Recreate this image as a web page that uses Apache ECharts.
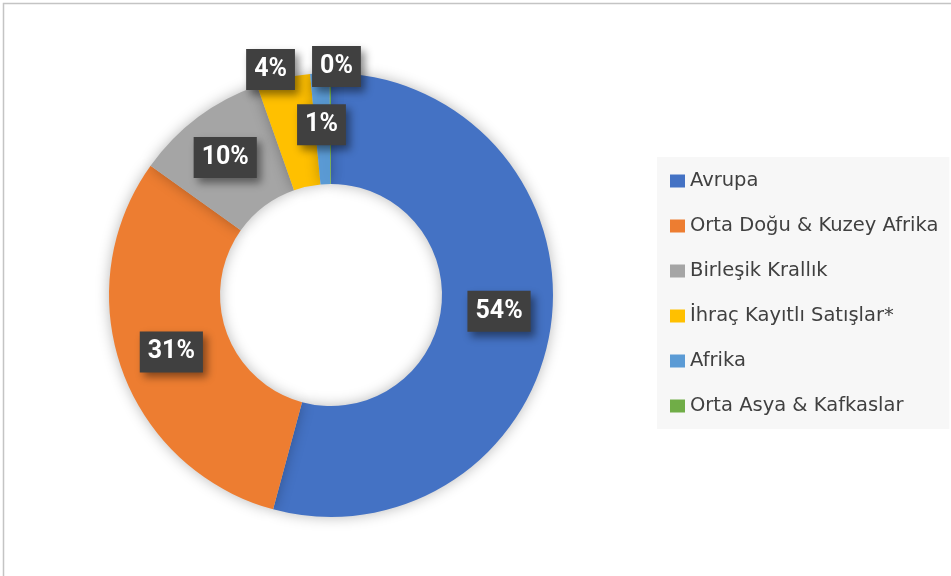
<!DOCTYPE html>
<html>
<head>
<meta charset="utf-8">
<script src="https://cdn.jsdelivr.net/npm/echarts@6/dist/echarts.min.js"></script>
<style>
  html, body { margin: 0; padding: 0; background: #fff; }
  #chart { width: 951px; height: 576px; }
</style>
</head>
<body>
<div id="chart"></div>
<script>
  const regions = ['Avrupa', 'Orta Doğu & Kuzey Afrika', 'Birleşik Krallık', 'İhraç Kayıtlı Satışlar*', 'Afrika', 'Orta Asya & Kafkaslar'];
  const shares = [54.2, 30.7, 9.7, 3.9, 1.4, 0.1];
  const colors = ['#4472C4', '#ED7D31', '#A5A5A5', '#FFC000', '#5B9BD5', '#70AD47'];

  // label nudges in px (Excel puts the thin slices' labels further out)
  const labelNudge = { 0: [0, -6], 2: [-4, -2], 3: [-24, -60], 4: [-1, -1], 5: [6, -59] };

  const chart = echarts.init(document.getElementById('chart'));

  const data = regions.map((name, i) => {
    const item = { name: name, value: shares[i], itemStyle: { color: colors[i] } };
    if (labelNudge[i]) item.label = { offset: labelNudge[i] };
    return item;
  });

  const option = {
    animation: false,
    graphic: [
      {
        type: 'rect',
        shape: { x: 3.5, y: 3.5, width: 1200, height: 1200 },
        style: { fill: 'none', stroke: '#c4c4c4', lineWidth: 1.5 },
        silent: true
      }
    ],
    legend: {
      orient: 'vertical',
      left: 657,
      top: 157,
      backgroundColor: '#f7f7f7',
      padding: [14, 11, 13, 13],
      itemGap: 25,
      itemWidth: 15,
      itemHeight: 13,
      icon: 'rect',
      textStyle: { fontFamily: 'DejaVu Sans', fontSize: 19.5, color: '#404040' },
      data: regions
    },
    series: [
      {
        type: 'pie',
        center: [331, 295],
        radius: [111, 222],
        startAngle: 90,
        clockwise: true,
        percentPrecision: 0,
        avoidLabelOverlap: false,
        itemStyle: {
          shadowBlur: 14,
          shadowColor: 'rgba(0,0,0,0.28)'
        },
        label: {
          show: true,
          position: 'inside',
          formatter: '{d}%',
          fontFamily: 'Roboto',
          fontWeight: 'bold',
          fontSize: 25,
          lineHeight: 25,
          color: '#fff',
          backgroundColor: '#404040',
          padding: [9, 8, 7, 8],
          shadowBlur: 8,
          shadowOffsetX: 4,
          shadowOffsetY: 5,
          shadowColor: 'rgba(0,0,0,0.45)'
        },
        labelLine: { show: false },
        emphasis: { disabled: true },
        data: data
      }
    ]
  };

  chart.setOption(option);
</script>
</body>
</html>
